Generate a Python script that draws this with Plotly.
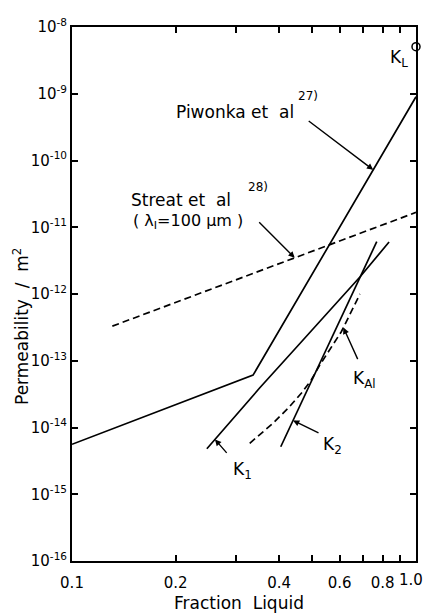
import numpy as np
import plotly.graph_objects as go

# ---------------- data ----------------
piwonka_frac = [0.1, 0.336, 1.0]
piwonka_perm = [5.6e-15, 6.1e-14, 9.0e-10]

streat_frac = [0.131, 1.0]
streat_perm = [3.3e-13, 1.67e-11]

k1_frac = [0.2466, 0.351, 0.459, 0.687, 0.835]
k1_perm = [4.8e-15, 3.9e-14, 1.8e-13, 1.8e-12, 6.0e-12]

k2_frac = [0.4044, 0.769]
k2_perm = [5.15e-15, 6.1e-12]

kal_frac = [0.3286, 0.384, 0.4246, 0.464, 0.496, 0.525, 0.6066, 0.6873]
kal_perm = [5.8e-15, 1.16e-14, 1.94e-14, 3.25e-14, 5.15e-14, 8.6e-14, 2.72e-13, 1.0e-12]

kl_frac = [1.0]
kl_perm = [5.07e-9]

x_tickvals = [0.1, 0.2, 0.3, 0.4, 0.5, 0.6, 0.7, 0.8, 0.9, 1.0]
x_ticktext = ["0.1", "0.2", "", "0.4", "", "0.6", "", "0.8", "", "1.0"]
y_exponents = [-16, -15, -14, -13, -12, -11, -10, -9, -8]

FONT = "DejaVu Sans"
NB = "\u00a0"

# ---------------- figure ----------------
fig = go.Figure()
line = dict(color="black", width=1.7)
dline = dict(color="black", width=1.7, dash="7px,4px")

fig.add_trace(go.Scatter(x=piwonka_frac, y=piwonka_perm, mode="lines", line=line))
fig.add_trace(go.Scatter(x=streat_frac, y=streat_perm, mode="lines", line=dline))
fig.add_trace(go.Scatter(x=k1_frac, y=k1_perm, mode="lines", line=line))
fig.add_trace(go.Scatter(x=k2_frac, y=k2_perm, mode="lines", line=line))
fig.add_trace(go.Scatter(x=kal_frac, y=kal_perm, mode="lines", line=dline))
fig.add_trace(go.Scatter(x=kl_frac, y=kl_perm, mode="markers", cliponaxis=False,
                         marker=dict(symbol="circle-open", size=8, color="black",
                                     line=dict(width=1.5, color="black"))))


def on_line(xs, ys, x):
    """log-log interpolation along a series"""
    lx = np.log10(xs)
    ly = np.log10(ys)
    return float(np.interp(np.log10(x), lx, ly))


# pixel helpers for label placement (plot area: x 72..416, y 27..561)
def PX(p):
    return (p - 72) / 344.0


def PY(p):
    return (561 - p) / 534.0


anns = []


def arrow(xs, ys, xv, ax, ay):
    anns.append(dict(x=np.log10(xv), y=on_line(xs, ys, xv), xref="x", yref="y",
                     text="", showarrow=True, ax=ax, ay=ay, arrowhead=2,
                     arrowsize=0.9, arrowwidth=1.4, arrowcolor="black", standoff=0))


arrow(piwonka_frac, piwonka_perm, 0.751, -66, -50)
arrow(streat_frac, streat_perm, 0.444, -37, -37)
arrow(k1_frac, k1_perm, 0.2604, 13, 15)
arrow(k2_frac, k2_perm, 0.439, 27, 13)
arrow(kal_frac, kal_perm, 0.615, 15, 33)


def label(text, x, y, size=16, xanchor="left", yanchor="middle", angle=0):
    anns.append(dict(x=PX(x), y=PY(y), xref="paper", yref="paper", text=text,
                     showarrow=False, xanchor=xanchor, yanchor=yanchor,
                     textangle=angle, font=dict(family=FONT, size=size, color="black")))


label("Piwonka" + NB + "et" + NB + NB + "al", 174, 112, 17)
label("27)", 308, 96, 12, xanchor="center")
label("Streat" + NB + "et" + NB + NB + "al", 129, 200, 17)
label("28)", 258, 187, 12, xanchor="center")
label("(" + NB + "λ<sub>I</sub>=100" + NB + "μm" + NB + ")", 131, 221, 16)
label("K<sub>1</sub>", 242, 470, 17, xanchor="center")
label("K<sub>2</sub>", 332, 445, 17, xanchor="center")
label("K<sub>Al</sub>", 364, 379, 17, xanchor="center")
label("K<sub>L</sub>", 399, 58, 17, xanchor="center")
label("Fraction" + NB + NB + "Liquid", 239, 603, 17, xanchor="center")
label("Permeability" + NB + NB + "/" + NB + NB + "m<sup>2</sup>", 21, 326, 17,
      xanchor="center", angle=-90)
# last x tick label, kept inside the page at the right edge
label(x_ticktext[-1], 425, 580, 15, xanchor="right")

fig.update_layout(
    width=426, height=615,
    margin=dict(l=72, r=10, t=27, b=54, autoexpand=False),
    paper_bgcolor="white", plot_bgcolor="white",
    showlegend=False,
    font=dict(family=FONT, size=15, color="black"),
    annotations=anns,
)
fig.update_xaxes(
    type="log", range=[-1, 0], tickvals=x_tickvals[:-1], ticktext=x_ticktext[:-1],
    ticks="inside", ticklen=6, tickwidth=1.5, tickcolor="black",
    showline=True, linewidth=2, linecolor="black", mirror="ticks",
    showgrid=False, zeroline=False, ticklabelstandoff=7, automargin=False,
    tickfont=dict(family=FONT, size=15),
)
fig.update_yaxes(
    type="log", range=[-16, -8],
    tickvals=[10.0 ** e for e in y_exponents],
    ticktext=["10<sup>%d</sup>" % e for e in y_exponents],
    ticks="inside", ticklen=6, tickwidth=1.5, tickcolor="black",
    showline=True, linewidth=2, linecolor="black", mirror="ticks",
    showgrid=False, zeroline=False, automargin=False,
    tickfont=dict(family=FONT, size=15),
)

fig.write_html("out.html")
